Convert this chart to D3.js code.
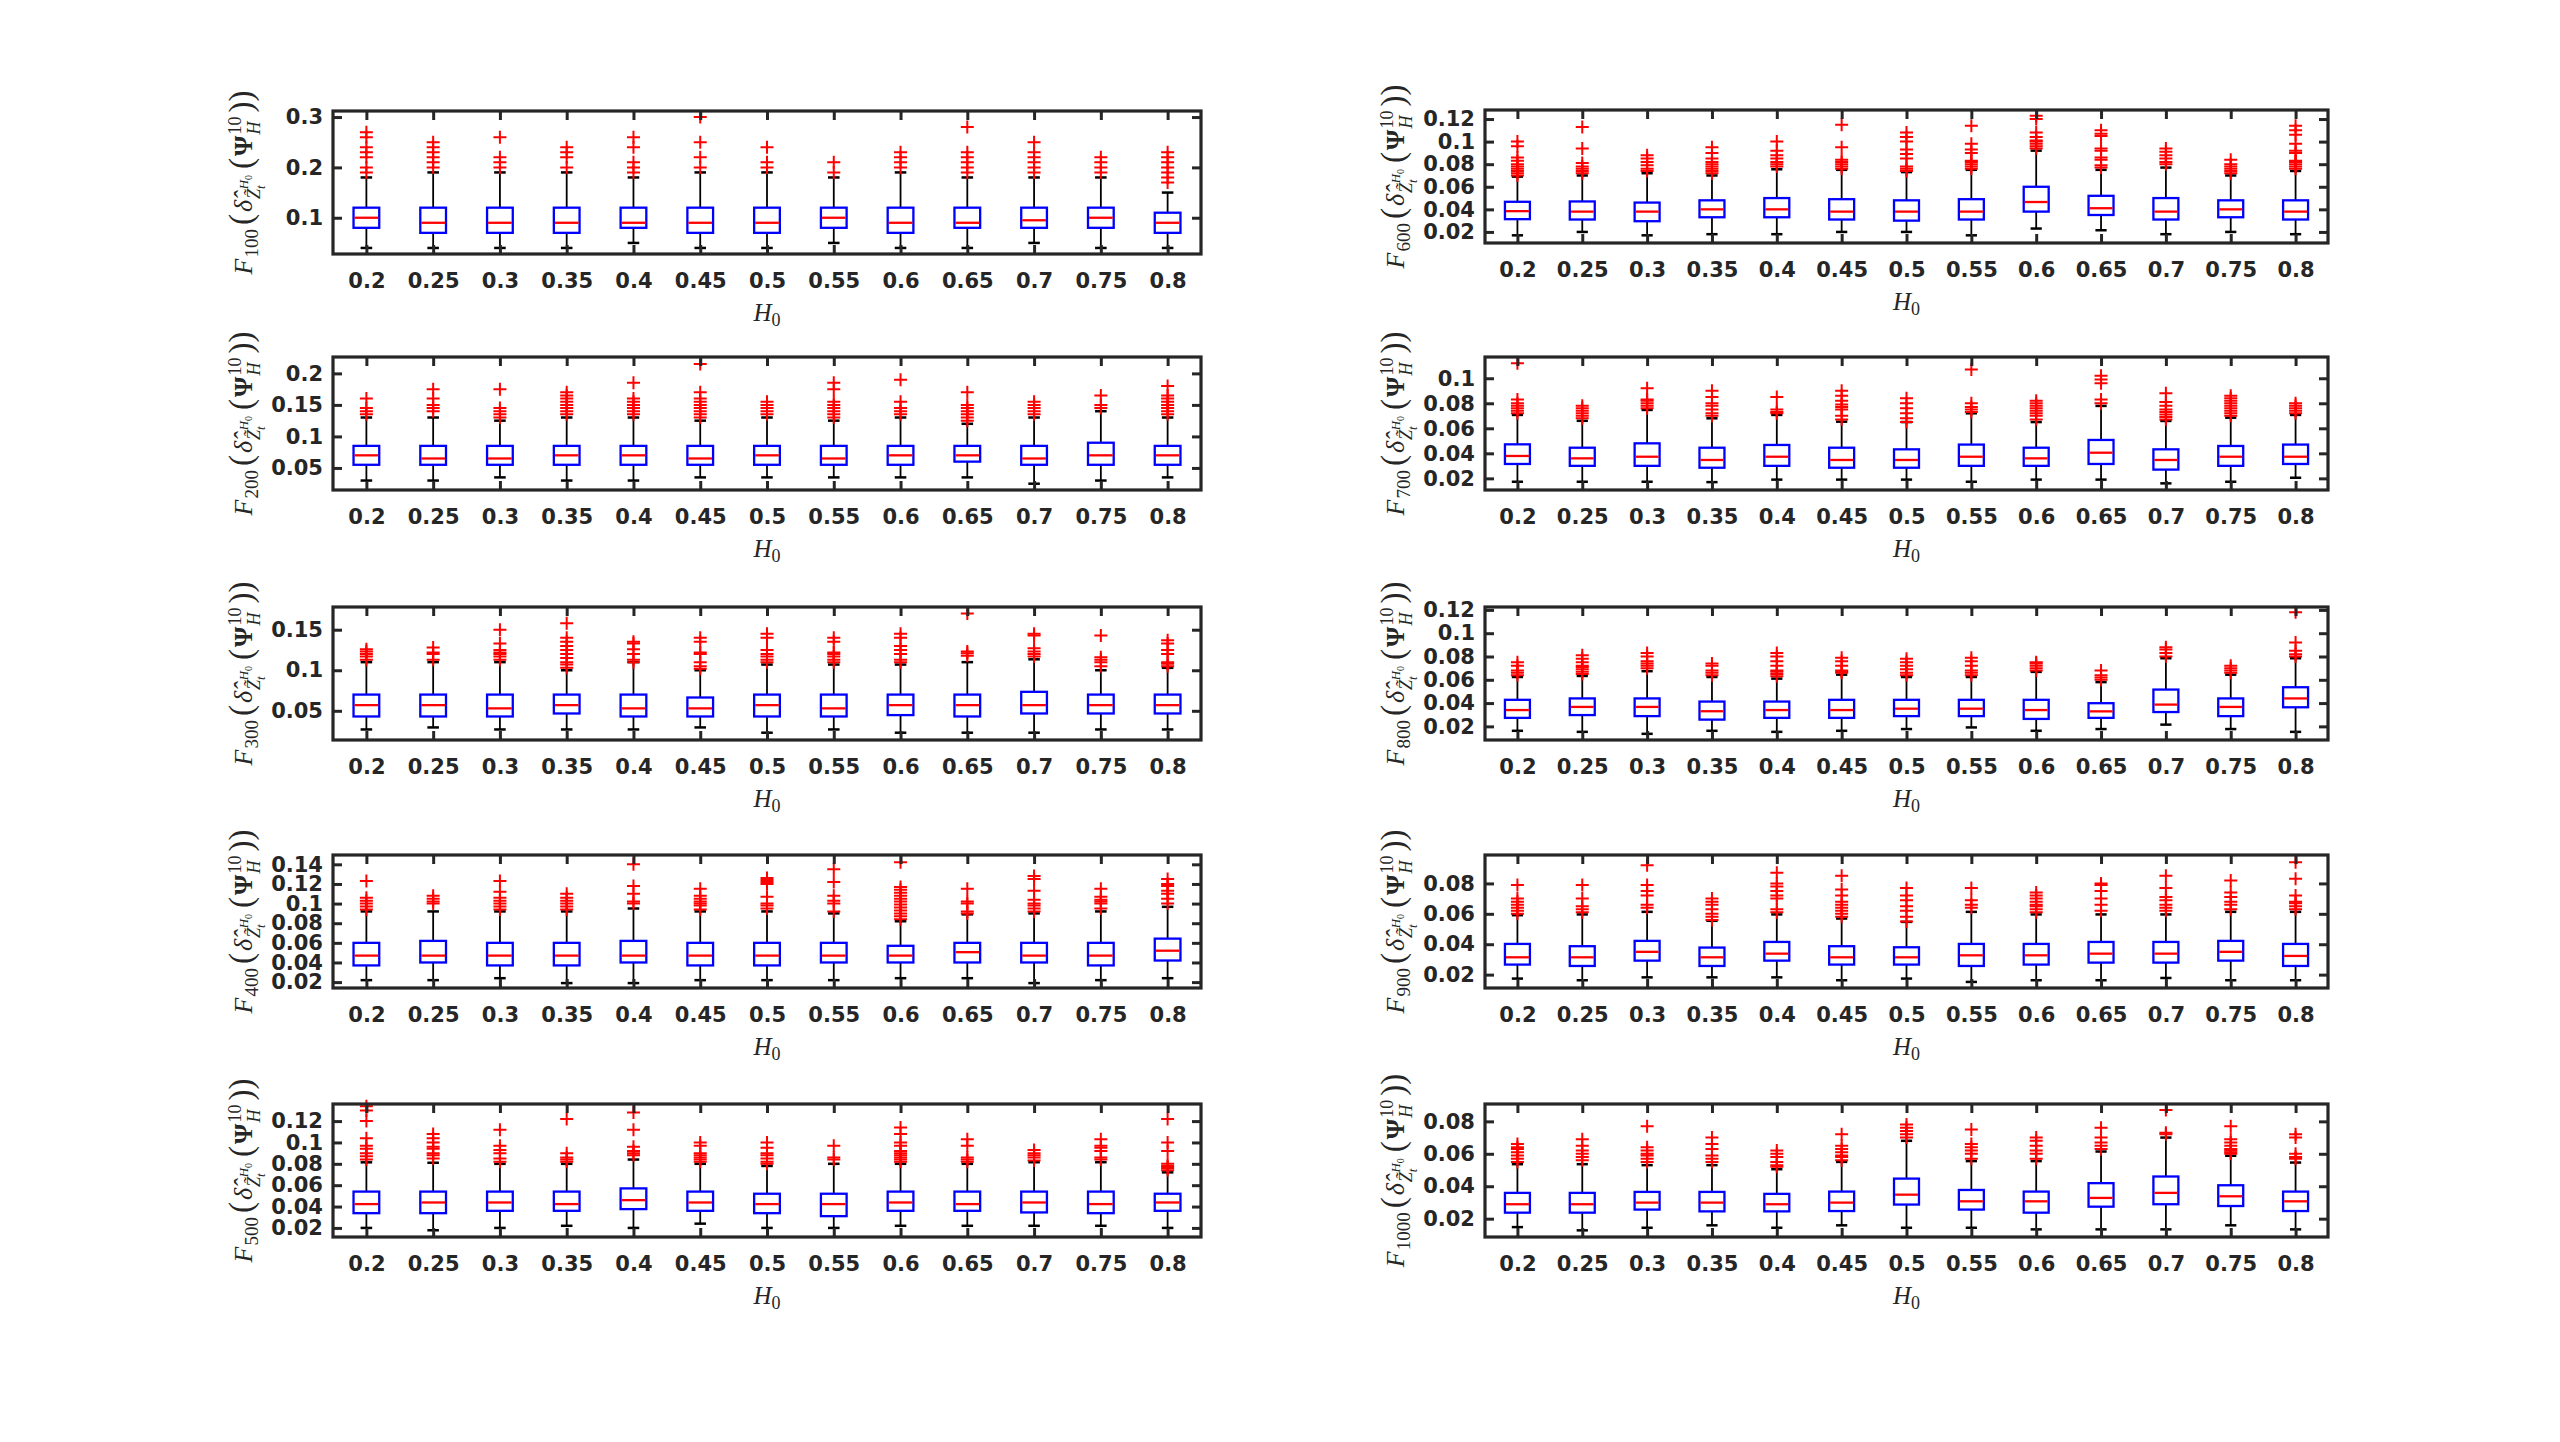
<!DOCTYPE html>
<html>
<head>
<meta charset="utf-8">
<script src="https://cdn.jsdelivr.net/npm/d3@7"></script>
<style>
  body { margin: 0; background: #fff; }
  svg { display: block; }
</style>
</head>
<body>
<svg id="chart"></svg>
<script>
// H0 categories on every x axis
var categories = ["0.2", "0.25", "0.3", "0.35", "0.4", "0.45", "0.5", "0.55", "0.6", "0.65", "0.7", "0.75", "0.8"]

// one panel per sample size, left column 100..500, right column 600..1000
var panelN = [100, 200, 300, 400, 500, 600, 700, 800, 900, 1000]

// y limits and ticks
var yDomains = [
  [0.028, 0.312], [0.015, 0.226], [0.014, 0.178], [0.014, 0.1495], [0.0115, 0.136],
  [0.0102, 0.128], [0.0107, 0.117], [0.0083, 0.1225], [0.0112, 0.0987], [0.0087, 0.0907]
]
var yTicks = [
  [0.1, 0.2, 0.3],
  [0.05, 0.1, 0.15, 0.2],
  [0.05, 0.1, 0.15],
  [0.02, 0.04, 0.06, 0.08, 0.1, 0.12, 0.14],
  [0.02, 0.04, 0.06, 0.08, 0.1, 0.12],
  [0.02, 0.04, 0.06, 0.08, 0.1, 0.12],
  [0.02, 0.04, 0.06, 0.08, 0.1],
  [0.02, 0.04, 0.06, 0.08, 0.1, 0.12],
  [0.02, 0.04, 0.06, 0.08],
  [0.02, 0.04, 0.06, 0.08]
]

// lower whisker end
var lowWhisker = [
  [.04,.04,.04,.04,.05,.04,.04,.05,.04,.04,.05,.04,.04],
  [.03,.03,.035,.03,.03,.035,.035,.035,.035,.035,.025,.03,.035],
  [.027,.0295,.027,.027,.027,.0295,.023,.027,.023,.023,.023,.027,.027],
  [.022,.022,.024,.019,.019,.022,.022,.022,.024,.024,.019,.022,.024],
  [.02,.0178,.02,.022,.02,.024,.02,.02,.022,.022,.022,.022,.02],
  [.017,.02,.017,.018,.018,.02,.02,.017,.023,.0215,.018,.02,.018],
  [.0173,.0173,.0173,.017,.019,.019,.019,.0173,.019,.019,.016,.0173,.0205],
  [.0162,.0153,.0136,.0162,.0153,.0162,.0177,.0191,.0162,.0177,.0215,.0177,.0153],
  [.0174,.0163,.0182,.0182,.0182,.0163,.0174,.0152,.0163,.0163,.0178,.0163,.0163],
  [.0148,.0128,.0144,.0159,.0144,.0159,.0144,.0144,.0134,.0134,.0134,.0159,.0134]
]

// first quartile
var q1 = [
  [.08,.07,.07,.07,.08,.07,.07,.08,.07,.08,.08,.08,.07],
  [.055,.055,.055,.055,.055,.055,.055,.055,.055,.06,.055,.055,.055],
  [.043,.043,.043,.0467,.043,.043,.043,.043,.0447,.043,.0467,.0467,.0467],
  [.037,.04,.037,.037,.04,.037,.037,.04,.04,.04,.04,.037,.042],
  [.0338,.0338,.036,.036,.0376,.036,.0338,.031,.036,.036,.0345,.0338,.036],
  [.0313,.031,.0295,.033,.033,.031,.030,.031,.038,.035,.031,.033,.031],
  [.0315,.030,.030,.0285,.030,.0285,.0285,.030,.030,.0315,.027,.030,.0315],
  [.0273,.0297,.0288,.0258,.0273,.0273,.0288,.0288,.0264,.0273,.0323,.0288,.0364],
  [.0266,.0257,.0292,.0257,.0292,.0266,.0266,.0257,.0266,.0279,.0279,.0292,.0257],
  [.0237,.0237,.0256,.0245,.0245,.0247,.0287,.0256,.0237,.0274,.0289,.0278,.0247]
]

// median
var median = [
  [.10,.09,.09,.09,.09,.09,.09,.10,.09,.09,.095,.10,.09],
  [.07,.065,.065,.07,.07,.065,.07,.065,.07,.07,.065,.07,.07],
  [.057,.057,.053,.057,.053,.053,.057,.053,.057,.057,.057,.057,.057],
  [.047,.047,.047,.047,.047,.047,.047,.047,.047,.0505,.047,.047,.052],
  [.0423,.0438,.0438,.0423,.046,.0438,.0423,.0423,.0438,.0423,.0438,.0423,.0438],
  [.0384,.038,.038,.04,.04,.038,.038,.038,.0465,.041,.038,.04,.038],
  [.0379,.036,.0373,.0347,.0373,.0347,.0347,.0373,.036,.0405,.0347,.0373,.0373],
  [.034,.0367,.0367,.033,.034,.034,.0352,.0352,.034,.0329,.0387,.0367,.044],
  [.0314,.0314,.035,.0314,.0338,.0314,.0314,.0327,.0327,.0338,.0338,.035,.0323],
  [.0289,.0289,.0299,.0299,.0289,.0299,.0348,.0307,.0307,.0328,.0359,.0338,.0307]
]

// third quartile
var q3 = [
  [.12,.12,.12,.12,.12,.12,.12,.12,.12,.12,.12,.12,.11],
  [.085,.085,.085,.085,.085,.085,.085,.085,.085,.085,.085,.09,.085],
  [.07,.07,.07,.07,.07,.0664,.07,.07,.07,.07,.0734,.07,.07],
  [.06,.062,.06,.06,.062,.06,.06,.06,.057,.06,.06,.06,.0643],
  [.054,.054,.054,.054,.057,.054,.052,.052,.054,.054,.054,.054,.052],
  [.0467,.047,.046,.048,.05,.049,.048,.049,.06,.052,.05,.048,.048],
  [.0472,.0445,.048,.0445,.0467,.0445,.0432,.047,.0445,.0507,.0432,.0459,.047],
  [.0428,.044,.044,.0413,.0413,.0428,.0428,.0428,.0428,.0399,.0516,.044,.0536],
  [.0402,.0387,.0422,.0378,.0415,.0387,.038,.0402,.0402,.0415,.0415,.0422,.0402],
  [.0359,.0359,.0365,.0365,.0353,.0367,.0447,.0377,.0367,.0419,.046,.0406,.0367]
]

// upper whisker end
var highWhisker = [
  [.18,.19,.19,.19,.18,.19,.19,.18,.19,.18,.18,.18,.15],
  [.13,.13,.125,.13,.13,.125,.13,.125,.13,.12,.13,.14,.13],
  [.11,.11,.11,.1,.11,.1,.107,.107,.107,.11,.1135,.1,.103],
  [.092,.092,.092,.092,.095,.092,.092,.09,.082,.089,.09,.092,.0967],
  [.0814,.081,.08,.08,.084,.08,.078,.08,.08,.08,.0815,.0815,.072],
  [.069,.07,.072,.07,.0755,.075,.073,.075,.092,.075,.077,.07,.074],
  [.0707,.066,.0747,.068,.0707,.0653,.065,.072,.065,.0779,.0659,.0685,.0707],
  [.0624,.0633,.0674,.0624,.061,.0644,.0624,.0624,.0668,.058,.0785,.0644,.0785],
  [.0591,.0596,.0613,.0554,.0596,.0569,.0547,.0613,.0596,.0596,.0596,.0613,.0613],
  [.0536,.0536,.053,.053,.0505,.055,.068,.0555,.0555,.0614,.070,.0588,.0546]
]

// outliers (red +)
var outliers = [
  [[.19,.2,.22,.23,.24,.26,.27],[.2,.21,.22,.23,.24,.25],[.2,.21,.22,.26],[.2,.22,.23,.24],
   [.19,.2,.21,.24,.26],[.2,.22,.25,.3],[.2,.21,.24],[.19,.21],[.2,.21,.22,.23],
   [.19,.2,.21,.22,.23,.28],[.19,.2,.21,.22,.23,.25],[.19,.2,.21,.22],[.17,.18,.19,.2,.21,.22,.23]],
  [[.135,.14,.145,.16],[.14,.145,.15,.16,.175],[.13,.135,.14,.145,.175],[.135,.14,.145,.15,.155,.16,.165,.17],
   [.135,.14,.145,.15,.155,.16,.185],[.13,.135,.14,.145,.15,.155,.16,.17,.215],[.135,.14,.145,.15,.155],
   [.13,.135,.14,.145,.15,.155,.175,.185],[.135,.14,.145,.155,.19],[.125,.13,.135,.14,.145,.15,.17],
   [.135,.14,.145,.15,.155],[.145,.15,.165],[.135,.14,.145,.15,.155,.16,.165,.18]],
  [[.113,.117,.12,.123,.126],[.113,.12,.122,.128],[.113,.117,.12,.122,.125,.133,.15],
   [.103,.107,.11,.115,.12,.125,.13,.135,.14,.158],[.11,.113,.12,.126,.133,.135],
   [.102,.105,.11,.12,.122,.135,.14],[.11,.113,.117,.12,.125,.14,.145],[.11,.113,.117,.12,.122,.135,.14],
   [.11,.113,.12,.125,.13,.14,.145],[.118,.121,.123,.17],[.117,.12,.123,.127,.143,.145],
   [.105,.11,.113,.116,.143],[.105,.108,.11,.12,.125,.133,.137]],
  [[.094,.097,.1,.103,.106,.123],[.1,.102,.105,.108],[.094,.097,.1,.103,.106,.112,.123],
   [.094,.097,.1,.103,.106,.11],[.1,.102,.11,.118,.14],[.094,.098,.1,.102,.105,.108,.115],
   [.095,.098,.1,.107,.12,.122,.124,.126],[.092,.1,.103,.108,.122,.135],
   [.084,.087,.09,.093,.096,.099,.102,.105,.108,.111,.114,.117,.142],[.09,.092,.1,.102,.115],
   [.092,.095,.098,.1,.104,.113,.125,.128],[.095,.1,.102,.104,.107,.115],[.1,.105,.11,.113,.118,.12,.125]],
  [[.084,.087,.09,.094,.097,.104,.12,.13,.134],[.085,.088,.09,.094,.096,.1,.104,.108],
   [.082,.085,.09,.093,.097,.112],[.082,.084,.086,.09,.122],[.088,.09,.092,.096,.112,.128],
   [.082,.084,.086,.088,.09,.097,.1],[.08,.082,.085,.088,.09,.095,.1],[.084,.086,.097],
   [.082,.084,.086,.088,.09,.092,.097,.1,.108,.114],[.082,.084,.086,.097,.103],
   [.083,.086,.088,.09,.093],[.084,.086,.092,.095,.097,.103],[.074,.076,.078,.08,.092,.1,.122]],
  [[.07,.072,.074,.076,.078,.08,.083,.086,.096,.1],[.072,.074,.076,.078,.081,.094,.113],
   [.074,.076,.079,.082,.085,.088],[.072,.074,.076,.078,.08,.082,.085,.09,.095],
   [.078,.08,.082,.085,.088,.092,.1],[.076,.078,.08,.082,.084,.095,.115],
   [.074,.076,.078,.085,.089,.093,.1,.104,.108],[.076,.078,.08,.082,.083,.09,.093,.098,.114],
   [.094,.096,.098,.1,.101,.104,.108,.12,.123],[.077,.079,.084,.086,.092,.094,.105,.107,.11],
   [.08,.082,.085,.088,.091,.094],[.072,.074,.076,.078,.08,.084],
   [.076,.078,.08,.082,.083,.09,.092,.098,.106,.11,.114]],
  [[.072,.074,.076,.078,.08,.083,.112],[.068,.07,.072,.074,.076,.078],[.076,.078,.08,.082,.083,.092],
   [.07,.072,.075,.078,.08,.085,.09],[.072,.073,.075,.085],[.067,.07,.075,.077,.079,.082,.086,.09],
   [.065,.068,.072,.076,.08,.084],[.073,.075,.077,.08,.107],[.067,.07,.072,.074,.076,.078,.08,.082],
   [.08,.083,.096,.099,.102],[.067,.069,.071,.073,.075,.078,.081,.088],
   [.07,.072,.074,.076,.078,.08,.082,.084,.086],[.072,.074,.076,.078,.08]],
  [[.064,.066,.068,.072,.075],[.065,.067,.069,.071,.072,.075,.078,.081],[.07,.072,.074,.076,.08,.083],
   [.064,.066,.068,.072,.074],[.063,.065,.067,.068,.072,.076,.08,.083],[.066,.067,.068,.072,.076,.079],
   [.064,.066,.069,.072,.075,.078],[.064,.066,.068,.072,.076,.079],[.068,.07,.072,.074,.075],
   [.06,.062,.064,.068],[.08,.083,.086,.088],[.066,.068,.07,.072],[.08,.082,.085,.092,.118]],
  [[.06,.062,.064,.066,.068,.07,.079],[.061,.063,.065,.07,.079],[.064,.066,.072,.075,.079,.092],
   [.056,.058,.06,.063,.066,.068,.07],[.061,.063,.07,.072,.075,.078,.08,.087],
   [.058,.06,.062,.064,.066,.068,.072,.076,.085],[.055,.058,.062,.065,.069,.072,.077],
   [.064,.066,.069,.077],[.061,.063,.065,.066,.068,.07,.072,.074],[.062,.066,.07,.075,.079,.08],
   [.062,.064,.066,.069,.071,.077,.085],[.063,.066,.068,.071,.074,.082],[.063,.065,.067,.068,.072,.083,.094]],
  [[.055,.057,.059,.061,.063,.064,.066],[.056,.058,.06,.062,.065,.069],[.055,.057,.059,.06,.062,.064,.077],
   [.055,.057,.059,.063,.066,.07],[.052,.053,.055,.058,.06,.062],[.056,.058,.059,.061,.063,.065,.072],
   [.07,.072,.074,.076,.078],[.057,.06,.062,.064,.066,.075],[.057,.06,.062,.065,.068,.07],
   [.063,.065,.067,.07,.076],[.072,.073,.087],[.06,.061,.062,.063,.065,.067,.069,.077],[.057,.058,.06,.07,.072]]
]

var width = 2560, height = 1442
var svg = d3.select("#chart").attr("width", width).attr("height", height)
svg.append("rect").attr("width", width).attr("height", height).attr("fill", "#fff")

var axisColor = "#262626"
var sans = "'DejaVu Sans', 'Liberation Sans', Arial, sans-serif"
var serif = "'Liberation Serif', 'DejaVu Serif', 'Times New Roman', serif"

// panel frames (MATLAB subplot grid)
var colX = [[333, 1201], [1485, 2328]]
var rowTop = [110, 357, 607, 855, 1104]
var rowH = 133

var fmt = d => String(+d.toFixed(4))

// F_n( delta-hat_{Z~_t^{H_0}} ( Psi_H^10 ) ), drawn rotated
function yLabel(g, n, cx, cy) {
  var t = g.append("text")
    .attr("transform", "translate(" + cx + "," + cy + ") rotate(-90)")
    .attr("text-anchor", "middle")
    .attr("font-family", serif)
    .attr("font-size", 26)
    .attr("fill", axisColor)
  var parts = [
    {s: "F", it: true},
    {s: String(n), fs: 19, dy: 6, dx: 1},
    {s: "(", fs: 33, dy: -6, dx: 4},
    {s: "\u03B4\u0302", it: true, dx: 2},
    {s: "Z\u0303", it: true, fs: 18, dy: 8, dx: 1},
    {s: "t", it: true, fs: 13, dy: 5},
    {s: "H", it: true, fs: 13, dx: -4, dy: -17},
    {s: "0", fs: 10, dy: 4},
    {s: "(", fs: 33, dx: 6},
    {s: "\u03A8", bold: true, dx: 2},
    {s: "10", fs: 18, dy: -11, dx: 1},
    {s: "H", it: true, fs: 18, dx: -18, dy: 19},
    {s: "))", fs: 33, dx: 9, dy: -8}
  ]
  parts.forEach(p => {
    t.append("tspan")
      .attr("font-size", p.fs || 26)
      .attr("font-style", p.it ? "italic" : "normal")
      .attr("font-weight", p.bold ? "bold" : "normal")
      .attr("dx", p.dx || 0)
      .attr("dy", p.dy || 0)
      .text(p.s)
  })
}

function styleAxis(sel) {
  sel.attr("font-family", sans).attr("font-weight", "bold").attr("font-size", 21)
  sel.select(".domain").remove()
  sel.selectAll(".tick line").attr("stroke", axisColor).attr("stroke-width", 3)
  sel.selectAll(".tick text").attr("fill", axisColor)
}

panelN.forEach((n, i) => {
  var col = i < 5 ? 0 : 1
  var row = i % 5
  var x0 = colX[col][0], x1 = colX[col][1]
  var top = rowTop[row] + (i === 0 ? 1 : 0)
  var h = i === 0 ? 143 : rowH
  var bottom = top + h

  var x = d3.scaleLinear().domain([0.5, categories.length + 0.5]).range([x0, x1])
  var y = d3.scaleLinear().domain(yDomains[i]).range([bottom, top])
  var bw = (x(2) - x(1)) * 0.385
  var cw = bw * 0.45

  var g = svg.append("g")
  var stats = categories.map((c, k) => ({
    k: k + 1, lo: lowWhisker[i][k], q1: q1[i][k], med: median[i][k], q3: q3[i][k], hi: highWhisker[i][k], out: outliers[i][k]
  }))

  // whiskers
  g.selectAll(".wu").data(stats).enter().append("line")
    .attr("x1", d => x(d.k)).attr("x2", d => x(d.k))
    .attr("y1", d => y(d.q3)).attr("y2", d => y(d.hi))
    .attr("stroke", "#000").attr("stroke-width", 1.8)
  g.selectAll(".wl").data(stats).enter().append("line")
    .attr("x1", d => x(d.k)).attr("x2", d => x(d.k))
    .attr("y1", d => y(d.q1)).attr("y2", d => y(d.lo))
    .attr("stroke", "#000").attr("stroke-width", 1.8)
  // caps
  ;["hi", "lo"].forEach(key => {
    g.selectAll(".cap-" + key).data(stats).enter().append("line")
      .attr("x1", d => x(d.k) - cw / 2).attr("x2", d => x(d.k) + cw / 2)
      .attr("y1", d => y(d[key])).attr("y2", d => y(d[key]))
      .attr("stroke", "#000").attr("stroke-width", 2.5)
  })
  // boxes
  g.selectAll(".box").data(stats).enter().append("rect")
    .attr("x", d => x(d.k) - bw / 2).attr("width", bw)
    .attr("y", d => y(d.q3)).attr("height", d => y(d.q1) - y(d.q3))
    .attr("fill", "none").attr("stroke", "#0000ff").attr("stroke-width", 2.3)
  // medians
  g.selectAll(".med").data(stats).enter().append("line")
    .attr("x1", d => x(d.k) - bw / 2 + 1).attr("x2", d => x(d.k) + bw / 2 - 1)
    .attr("y1", d => y(d.med)).attr("y2", d => y(d.med))
    .attr("stroke", "#ff0000").attr("stroke-width", 2.3)
  // outliers
  var pts = []
  stats.forEach(d => d.out.forEach(v => pts.push({k: d.k, v: v})))
  g.selectAll(".out").data(pts).enter().append("path")
    .attr("transform", d => "translate(" + x(d.k) + "," + y(d.v) + ")")
    .attr("d", "M-6.5,0H6.5M0,-6.5V6.5")
    .attr("stroke", "#ff0000").attr("stroke-width", 2).attr("fill", "none")

  // axes, ticks pointing inward
  g.append("g").attr("transform", "translate(" + x0 + ",0)")
    .call(d3.axisLeft(y).tickValues(yTicks[i]).tickSize(-9).tickPadding(10).tickFormat(fmt))
    .call(styleAxis)
  g.append("g").attr("transform", "translate(" + x1 + ",0)")
    .call(d3.axisRight(y).tickValues(yTicks[i]).tickSize(-9).tickFormat(""))
    .call(styleAxis)
  g.append("g").attr("transform", "translate(0," + bottom + ")")
    .call(d3.axisBottom(x).tickValues(d3.range(1, categories.length + 1)).tickSize(-9).tickPadding(19)
      .tickFormat(d => categories[d - 1]))
    .call(styleAxis)
  g.append("g").attr("transform", "translate(0," + top + ")")
    .call(d3.axisTop(x).tickValues(d3.range(1, categories.length + 1)).tickSize(-9).tickFormat(""))
    .call(styleAxis)

  g.append("rect")
    .attr("x", x0).attr("y", top).attr("width", x1 - x0).attr("height", h)
    .attr("fill", "none").attr("stroke", axisColor).attr("stroke-width", 3.2)

  // x label H_0
  var xl = g.append("text")
    .attr("x", (x0 + x1) / 2).attr("y", bottom + 67)
    .attr("text-anchor", "middle").attr("font-family", serif).attr("font-size", 25).attr("fill", axisColor)
  xl.append("tspan").attr("font-style", "italic").text("H")
  xl.append("tspan").attr("font-size", 18).attr("dy", 5).text("0")

  yLabel(g, n, x0 - 81, (top + bottom) / 2)
})
</script>
</body>
</html>
